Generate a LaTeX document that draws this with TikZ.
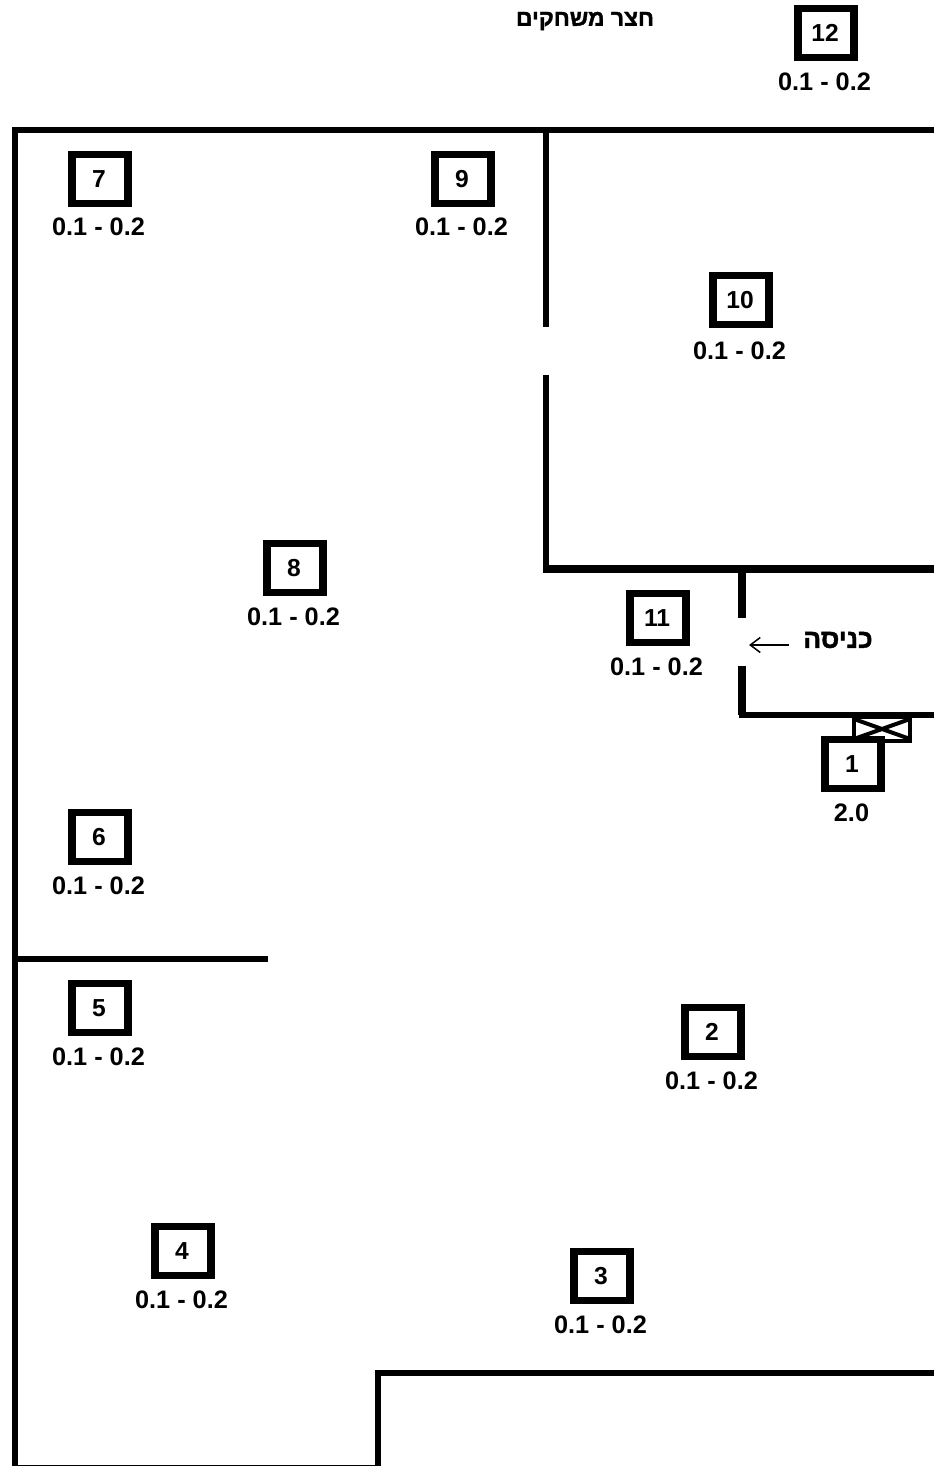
\documentclass[tikz,border=0pt]{standalone}
\usepackage{fontspec}
\setmainfont{Liberation Sans}
\newfontfamily\hebfont[Script=Hebrew,BoldFeatures={FakeBold=1.5}]{Liberation Sans}
\TeXXeTstate=1
\usetikzlibrary{positioning,arrows.meta}
\begin{document}
\begin{tikzpicture}[
  x=0.02cm, y=-0.02cm,
  wall/.style={line width=0.115cm},
  thickwall/.style={line width=0.145cm},
  sensor/.style={draw, line width=0.15cm, minimum width=1.12cm, minimum height=0.98cm, inner sep=0pt, font=\fontsize{14}{14}\selectfont\bfseries, execute at begin node={\kern-0.04cm}},
  rangetext/.style={inner sep=0pt, xshift=-0.03cm, font=\fontsize{14.4}{14.4}\selectfont\bfseries},
  hebrew/.style={inner sep=0pt, font=\hebfont\fontsize{13}{13}\selectfont\bfseries},
]
  \useasboundingbox (0,0) rectangle (934,1466);
  % outer walls
  \draw[wall] (934,130) -- (15,130) -- (15,1468) -- (378,1468) -- (378,1373) -- (934,1373);
  \draw[wall] (15,959) -- (268,959);
  % room at the top right
  \draw[wall] (546,130) -- (546,327);
  \draw[wall] (546,375) -- (546,569);
  \draw[thickwall] (543,569) -- (934,569);
  % entrance
  \draw[thickwall] (742,569) -- (742,618);
  \draw[thickwall] (742,666) -- (742,715);
  \draw[wall] (739,715) -- (934,715);
  \node[hebrew, font=\hebfont\fontsize{15}{15}\selectfont\bfseries] (entrance) at (838,640) {\beginR כניסה\endR};
  \coordinate (door) at (749,645);
  \coordinate (tail) at (789,645);
  \draw[-{Straight Barb[length=0.2cm,width=0.3cm]}, line width=0.03cm] (tail) -- (door);
  \node[hebrew] (yard) at (585,21) {\beginR חצר משחקים\endR};
  % fan beside sensor 1
  \draw[line width=0.08cm] (854,717) rectangle (910,741);
  \draw[line width=0.08cm] (854,719) -- (910,739);
  \draw[line width=0.08cm] (854,739) -- (910,719);
  % sensors
  \node[sensor, fill=white] (s1) at (853,764) {1};
  \node[rangetext] (r1) [below=0.22cm of s1] {2.0};
  \node[sensor] (s2) at (713,1032) {2};
  \node[rangetext] (r2) [below=0.22cm of s2] {0.1 - 0.2};
  \node[sensor] (s3) at (602,1276) {3};
  \node[rangetext] (r3) [below=0.22cm of s3] {0.1 - 0.2};
  \node[sensor] (s4) at (183,1251) {4};
  \node[rangetext] (r4) [below=0.22cm of s4] {0.1 - 0.2};
  \node[sensor] (s5) at (100,1008) {5};
  \node[rangetext] (r5) [below=0.22cm of s5] {0.1 - 0.2};
  \node[sensor] (s6) at (100,837) {6};
  \node[rangetext] (r6) [below=0.22cm of s6] {0.1 - 0.2};
  \node[sensor] (s7) at (100,179) {7};
  \node[rangetext] (r7) [below=0.2cm of s7] {0.1 - 0.2};
  \node[sensor] (s8) at (295,568) {8};
  \node[rangetext] (r8) [below=0.22cm of s8] {0.1 - 0.2};
  \node[sensor] (s9) at (463,179) {9};
  \node[rangetext] (r9) [below=0.2cm of s9] {0.1 - 0.2};
  \node[sensor] (s10) at (741,300) {10};
  \node[rangetext] (r10) [below=0.26cm of s10] {0.1 - 0.2};
  \node[sensor] (s11) at (658,618) {11};
  \node[rangetext] (r11) [below=0.22cm of s11] {0.1 - 0.2};
  \node[sensor] (s12) at (826,33) {12};
  \node[rangetext] (r12) [below=0.22cm of s12] {0.1 - 0.2};
\end{tikzpicture}
\end{document}
